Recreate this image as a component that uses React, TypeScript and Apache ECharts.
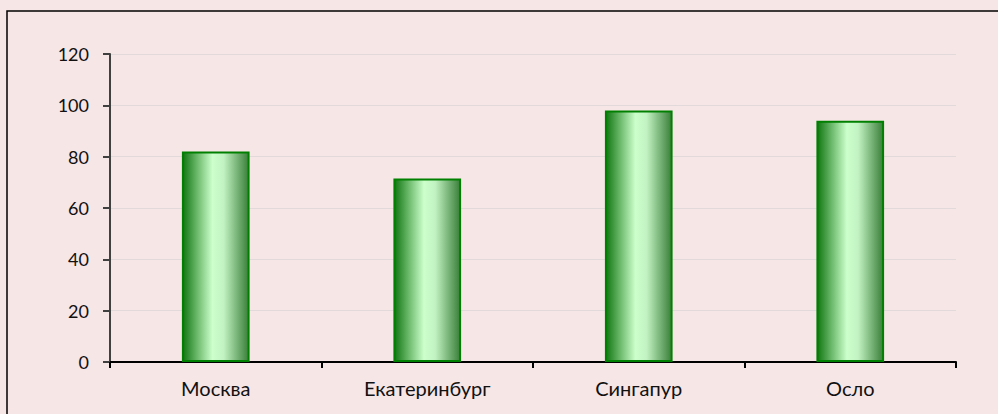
import React, { useEffect, useRef } from "react";
import * as echarts from "echarts";

const categories = ["Москва", "Екатеринбург", "Сингапур", "Осло"];
const values = [82, 71.5, 98, 94];
const yTicks = { min: 0, max: 120, interval: 20 };

export default function App() {
  const ref = useRef<HTMLDivElement>(null);
  useEffect(() => {
    if (!ref.current) return;
    const chart = echarts.init(ref.current, undefined, { renderer: "svg" });
    const font = "Lato, 'Noto Sans', sans-serif";
    chart.setOption({
      animation: false,
      backgroundColor: "#F6E6E6",
      graphic: [
        {
          type: "rect",
          shape: { x: 7, y: 11, width: 1200, height: 600 },
          style: { fill: "none", stroke: "#000000", lineWidth: 1.5 },
          silent: true,
        },
      ],
      grid: { left: 110, right: 42, top: 54, bottom: 52 },
      xAxis: {
        type: "category",
        data: categories,
        axisLine: { show: true, lineStyle: { color: "#000000", width: 2 } },
        axisTick: { show: true, length: 6, lineStyle: { color: "#000000", width: 2 } },
        axisLabel: { color: "#111111", fontSize: 20, fontFamily: font, margin: 16 },
        splitLine: { show: false },
      },
      yAxis: {
        type: "value",
        min: yTicks.min,
        max: yTicks.max,
        interval: yTicks.interval,
        axisLine: { show: true, lineStyle: { color: "#404040", width: 2 } },
        axisTick: { show: true, length: 7, lineStyle: { color: "#404040", width: 2 } },
        axisLabel: { color: "#111111", fontSize: 18, fontFamily: font, margin: 21 },
        splitLine: { show: true, lineStyle: { color: "#E2DADA", width: 1 } },
      },
      series: [
        {
          type: "bar",
          data: values,
          barWidth: "32%",
          itemStyle: {
            borderColor: "#008000",
            borderWidth: 2,
            color: new echarts.graphic.LinearGradient(0, 0, 1, 0, [
              { offset: 0, color: "#117711" },
              { offset: 0.45, color: "#ccffcc" },
              { offset: 0.62, color: "#c2f2c2" },
              { offset: 1, color: "#3a7f3a" },
            ]),
          },
        },
      ],
    });
    return () => chart.dispose();
  }, []);
  return (
    <div
      ref={ref}
      style={{ position: "fixed", left: 0, top: 0, width: 998, height: 414 }}
    />
  );
}
